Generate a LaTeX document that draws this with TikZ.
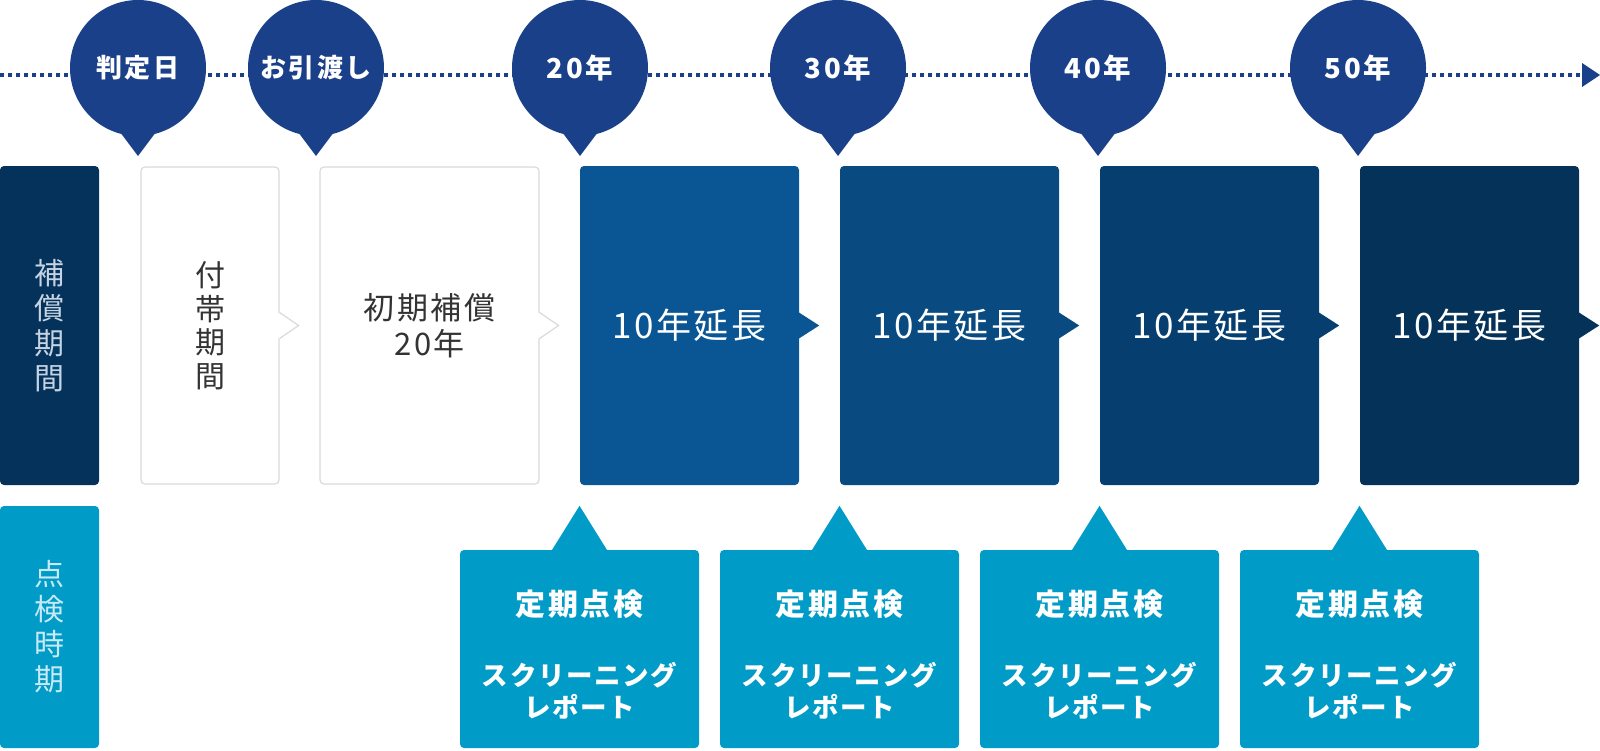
\documentclass[tikz,border=0pt]{standalone}
\usepackage{fontspec}
\setmainfont{Noto Sans CJK JP}
\definecolor{bubc}{HTML}{1B408A}
\definecolor{dA}{HTML}{0A5695}
\definecolor{dB}{HTML}{094B81}
\definecolor{dC}{HTML}{063F6F}
\definecolor{dD}{HTML}{053258}
\definecolor{lab}{HTML}{05325A}
\definecolor{cy}{HTML}{009BC7}
\definecolor{wb}{HTML}{DADADA}
\definecolor{tx}{HTML}{333333}
\definecolor{labtx}{HTML}{C5D3E3}
\definecolor{cytx}{HTML}{C8EAF6}
\newcommand\fsz[2]{\fontsize{#1}{#2}\selectfont}
\tikzset{
  bub/.style={circle, fill=bubc, minimum size=136pt, inner sep=0pt, text=white,
    font={\fsz{26}{29}\bfseries\addfontfeature{LetterSpace=9}}},
  bubn/.style={bub, font={\fsz{27.5}{31}\bfseries\addfontfeature{LetterSpace=10}}},
  dbox/.style={rectangle, rounded corners=4pt, minimum width=219pt, minimum height=319pt,
    inner sep=0pt, text=white, font={\fsz{35}{40}\addfontfeature{LetterSpace=7}}},
  wbox/.style={rectangle, rounded corners=4pt, draw=wb, line width=1.2pt, fill=white,
    minimum height=317pt, inner sep=0pt, text=tx, align=center},
  labbox/.style={rectangle, rounded corners=4pt, inner sep=0pt, minimum width=99pt, align=center},
  cbox/.style={rectangle, rounded corners=4pt, fill=cy, minimum width=239pt, minimum height=198pt, inner sep=0pt},
  ctext/.style={text=white, align=center, inner sep=0pt,
    font={\fsz{26.5}{32}\bfseries\addfontfeature{LetterSpace=6}}},
}
\begin{document}
\begin{tikzpicture}[x=1pt,y=-1pt]
\useasboundingbox (0,0) rectangle (1600,750);

% timeline
\coordinate (ls) at (0,75);
\coordinate (le) at (1582,75);
\coordinate (lt) at (1600,75);
\draw[bubc, line width=4pt, dash pattern=on 4pt off 4pt] (ls) -- (le);
\fill[bubc] (le) ++(0,-12) -- (lt) -- ++(-18,12) -- cycle;

% bubbles
\foreach \n/\x/\t/\s in {b1/138/判定日/bub, b2/316/お引渡し/bub, b3/580/20年/bubn, b4/838/30年/bubn, b5/1098/40年/bubn, b6/1358/50年/bubn}{
  \fill[bubc] (\x,68) ++(-27,52) -- ++(27,36) -- ++(27,-36) -- cycle;
  \node[\s] (\n) at (\x,68) {\t};
}

% top row
\node[labbox, fill=lab, minimum height=319pt, text=labtx, font={\fsz{30}{35}}] (l1) at (49.5,325.5) {補\\償\\期\\間};
\node[wbox, minimum width=138pt, font={\fsz{30}{33.5}}] (w1) at (210,325.5) {付\\帯\\期\\間};
\node[wbox, minimum width=219pt, font={\fsz{31}{36}\addfontfeature{LetterSpace=9}}] (w2) at (429.5,325.5) {初期補償\\20年};
\foreach \w in {w1,w2}{
  \fill[white] (\w.east) ++(-1.5,-13) -- ++(20.5,13) -- ++(-20.5,13) -- cycle;
  \draw[wb, line width=1.2pt, line join=miter] (\w.east) ++(0,-13) -- ++(19,13) -- ++(-19,13);
}
\foreach \n/\x/\c in {d1/689.5/dA, d2/949.5/dB, d3/1209.5/dC, d4/1469.5/dD}{
  \node[dbox, fill=\c] (\n) at (\x,325.5) {10年延長};
  \fill[\c] (\n.east) ++(-1,-13.5) -- ++(21,13.5) -- ++(-21,13.5) -- cycle;
}

% bottom row
\node[labbox, fill=cy, minimum height=242pt, text=cytx, font={\fsz{30}{35}}] (l2) at (49.5,627) {点\\検\\時\\期};
\foreach \n/\x in {c1/579.5, c2/839.5, c3/1099.5, c4/1359.5}{
  \node[cbox] (\n) at (\x,649) {};
  \fill[cy] (\n.north) ++(-28,1) -- ++(28,-45) -- ++(28,45) -- cycle;
  \node[ctext] (\n t) at ([yshift=-6pt]\n.center) {{\fsz{30}{32}\addfontfeature{LetterSpace=9}定期点検}\\[38pt]スクリーニング\\レポート};
}
\end{tikzpicture}
\end{document}
